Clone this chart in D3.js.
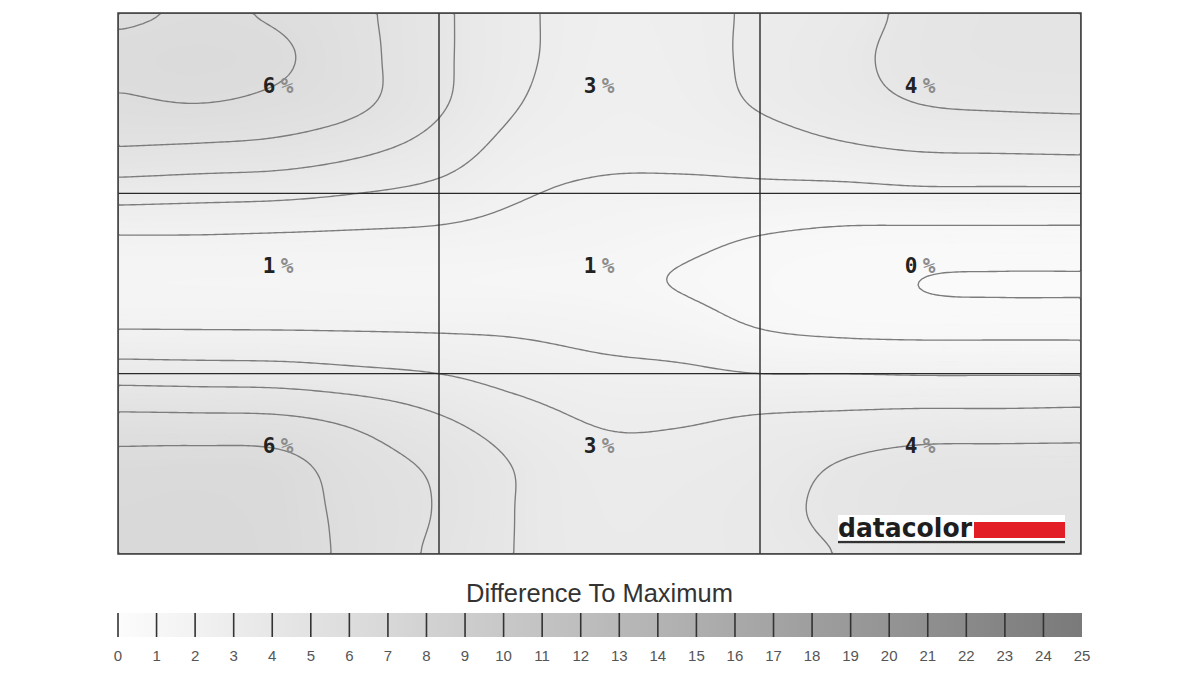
<!DOCTYPE html>
<html><head><meta charset="utf-8">
<script src="https://cdn.jsdelivr.net/npm/d3@7"></script>
<style>html,body{margin:0;padding:0;background:#fff;} svg{display:block;}</style>
</head><body>
<svg id="chart" width="1200" height="675"></svg>
<script>
// ---- data ----
const columns = ["Left", "Center", "Right"];
const rows = ["Top", "Middle", "Bottom"];
const cellValues = [
  [6, 3, 4],
  [1, 1, 0],
  [6, 3, 4]
];
const surface = [
  [5.78, 6.05, 5.85, 5.20, 4.20, 3.20, 2.60, 2.70, 3.15, 3.55, 4.25, 4.55, 4.70],
  [6.25, 6.35, 6.15, 5.30, 4.20, 3.20, 2.55, 2.65, 3.20, 3.75, 4.30, 4.55, 4.60],
  [5.85, 6.02, 5.75, 5.20, 4.15, 3.03, 2.45, 2.55, 3.10, 3.60, 4.03, 4.15, 4.20],
  [4.97, 4.85, 4.70, 4.25, 3.57, 2.60, 2.30, 2.30, 2.50, 2.85, 3.10, 3.15, 3.20],
  [3.43, 3.33, 3.24, 3.00, 2.69, 2.10, 1.80, 1.75, 1.75, 1.70, 1.80, 1.80, 1.80],
  [1.90, 1.90, 1.85, 1.80, 1.75, 1.60, 1.45, 1.22, 0.95, 0.80, 0.75, 0.75, 0.75],
  [1.39, 1.38, 1.37, 1.33, 1.30, 1.25, 1.18, 0.95, 0.72, 0.58, 0.495, 0.48, 0.48],
  [1.97, 1.96, 1.95, 1.93, 1.90, 1.85, 1.65, 1.40, 0.98, 0.80, 0.75, 0.75, 0.75],
  [3.56, 3.50, 3.45, 3.23, 3.00, 2.60, 2.30, 2.20, 2.00, 2.00, 1.95, 1.95, 1.95],
  [5.24, 5.21, 5.15, 4.75, 4.10, 3.40, 2.90, 2.90, 3.10, 3.20, 3.30, 3.30, 3.35],
  [6.35, 6.40, 6.30, 5.45, 4.80, 3.92, 3.30, 3.30, 3.55, 4.05, 4.40, 4.45, 4.45],
  [6.60, 6.65, 6.45, 5.65, 4.93, 3.95, 3.40, 3.45, 3.75, 4.20, 4.60, 4.70, 4.75],
  [6.70, 6.75, 6.50, 5.70, 4.78, 3.95, 3.45, 3.50, 3.70, 4.02, 4.65, 4.80, 4.85]
];
const contourLevels = [0.5, 1, 2, 3, 4, 5, 6];
const legendTicks = [0,1,2,3,4,5,6,7,8,9,10,11,12,13,14,15,16,17,18,19,20,21,22,23,24,25];
const legendTitle = "Difference To Maximum";
const brand = "datacolor";

// ---- layout ----
const svg = d3.select("#chart");
const plot = {left: 118, right: 1081, top: 13, bottom: 554};
const x = d3.scaleLinear().domain([0, columns.length]).range([plot.left, plot.right]);
const y = d3.scaleLinear().domain([0, rows.length]).range([plot.top, plot.bottom]);
const legendMax = legendTicks[legendTicks.length - 1];
const shade = d3.scaleLinear().domain([0, legendMax]).range(["#fcfcfc", "#7a7a7a"]);

// ---- surface interpolation (Catmull-Rom bicubic) ----
const nv = surface.length - 1, nu = surface[0].length - 1;
function cr(p0, p1, p2, p3, t) {
  return 0.5 * ((2 * p1) + (-p0 + p2) * t + (2 * p0 - 5 * p1 + 4 * p2 - p3) * t * t + (-p0 + 3 * p1 - 3 * p2 + p3) * t * t * t);
}
function node(r, c) {
  if (r < 0) return 2 * node(0, c) - node(1, c);
  if (r > nv) return 2 * node(nv, c) - node(nv - 1, c);
  if (c < 0) return 2 * node(r, 0) - node(r, 1);
  if (c > nu) return 2 * node(r, nu) - node(r, nu - 1);
  return surface[r][c];
}
function field(u, v) {
  const fu = u / columns.length * nu, fv = v / rows.length * nv;
  const i = Math.min(Math.floor(fu), nu - 1), j = Math.min(Math.floor(fv), nv - 1);
  const tu = fu - i, tv = fv - j;
  const rr = [-1, 0, 1, 2].map(d => cr(node(j + d, i - 1), node(j + d, i), node(j + d, i + 1), node(j + d, i + 2), tu));
  return cr(rr[0], rr[1], rr[2], rr[3], tv);
}
const n = 321, m = 180;
const grid = new Float64Array(n * m);
for (let j = 0; j < m; j++) for (let i = 0; i < n; i++) {
  grid[i + j * n] = field((i + 0.5) / n * columns.length, (j + 0.5) / m * rows.length);
}
if (d3.blur2) d3.blur2({data: grid, width: n}, 2);

const proj = d3.geoTransform({
  point: function(px, py) { this.stream.point(x(px / n * columns.length), y(py / m * rows.length)); }
});
const path = d3.geoPath(proj);

svg.append("defs").append("clipPath").attr("id", "plotClip")
  .append("rect").attr("x", plot.left).attr("y", plot.top)
  .attr("width", plot.right - plot.left).attr("height", plot.bottom - plot.top);

const gPlot = svg.append("g").attr("clip-path", "url(#plotClip)");

// smooth shading
const fillSteps = d3.range(0, 8, 0.1);
const fills = d3.contours().size([n, m]).thresholds(fillSteps)(grid);
gPlot.append("g").selectAll("path").data(fills).join("path")
  .attr("d", path)
  .attr("fill", d => shade(d.value + 0.05))
  .attr("stroke", d => shade(d.value + 0.05))
  .attr("stroke-width", 0.3);

// contour lines
const lines = d3.contours().size([n, m]).thresholds(contourLevels)(grid);
gPlot.append("g").selectAll("path").data(lines).join("path")
  .attr("d", path)
  .attr("fill", "none")
  .attr("stroke", "#7c7c7c")
  .attr("stroke-width", 1.35);

// grid lines
const gGrid = svg.append("g").attr("stroke", "#2a2a2a").attr("stroke-width", 1.4);
d3.range(1, columns.length).forEach(c => {
  gGrid.append("line").attr("x1", x(c)).attr("x2", x(c)).attr("y1", plot.top).attr("y2", plot.bottom);
});
d3.range(1, rows.length).forEach(r => {
  gGrid.append("line").attr("x1", plot.left).attr("x2", plot.right).attr("y1", y(r)).attr("y2", y(r));
});
svg.append("rect").attr("x", plot.left).attr("y", plot.top)
  .attr("width", plot.right - plot.left).attr("height", plot.bottom - plot.top)
  .attr("fill", "none").attr("stroke", "#3c3c3c").attr("stroke-width", 1.5);

// cell labels
const gLab = svg.append("g");
cellValues.forEach((row, r) => row.forEach((val, c) => {
  const cx = x(c + 0.5), by = y(r + 0.5) - 10.5;
  gLab.append("text").attr("x", cx - 9.5).attr("y", by).attr("text-anchor", "middle")
    .attr("font-family", "'DejaVu Sans Mono', monospace").attr("font-weight", "bold")
    .attr("font-size", 21).attr("fill", "#222").text(val);
  gLab.append("text").attr("x", cx + 8.5).attr("y", by).attr("text-anchor", "middle")
    .attr("font-family", "'DejaVu Sans Mono', monospace").attr("font-weight", "bold")
    .attr("font-size", 21).attr("fill", "#8c8c8c").text("%");
}));

// brand logo
const logo = svg.append("g");
logo.append("rect").attr("x", 838).attr("y", 515).attr("width", 227).attr("height", 25).attr("fill", "#ffffff");
logo.append("text").attr("x", 838).attr("y", 537)
  .attr("font-family", "'DejaVu Sans', sans-serif").attr("font-weight", "bold")
  .attr("font-size", 26).attr("fill", "#1e1e1e")
  .attr("textLength", 134).attr("lengthAdjust", "spacingAndGlyphs").text(brand);
logo.append("rect").attr("x", 974).attr("y", 522).attr("width", 91).attr("height", 16).attr("fill", "#e31d25");
logo.append("rect").attr("x", 838).attr("y", 541).attr("width", 227).attr("height", 2.2).attr("fill", "#333");

// legend
const lx = d3.scaleLinear().domain([0, legendMax]).range([118, 1082]);
const grad = svg.select("defs").append("linearGradient").attr("id", "legGrad")
  .attr("x1", "0%").attr("x2", "100%").attr("y1", "0%").attr("y2", "0%");
legendTicks.forEach(t => grad.append("stop").attr("offset", (t / legendMax * 100) + "%").attr("stop-color", shade(t)));
svg.append("rect").attr("x", lx(0)).attr("y", 613).attr("width", lx(legendMax) - lx(0)).attr("height", 24)
  .attr("fill", "url(#legGrad)");
const gTicks = svg.append("g");
legendTicks.slice(0, -1).forEach(t => {
  gTicks.append("line").attr("x1", lx(t)).attr("x2", lx(t)).attr("y1", 613).attr("y2", 637)
    .attr("stroke", "#333").attr("stroke-width", 1.6);
});
legendTicks.forEach(t => {
  gTicks.append("text").attr("x", lx(t)).attr("y", 661).attr("text-anchor", "middle")
    .attr("font-family", "'Liberation Sans', Arial, sans-serif").attr("font-size", 15)
    .attr("fill", "#555").text(t);
});
svg.append("text").attr("x", (plot.left + plot.right) / 2).attr("y", 602).attr("text-anchor", "middle")
  .attr("font-family", "'Liberation Sans', Arial, sans-serif").attr("font-size", 25.5)
  .attr("fill", "#333").text(legendTitle);
</script>
</body></html>
